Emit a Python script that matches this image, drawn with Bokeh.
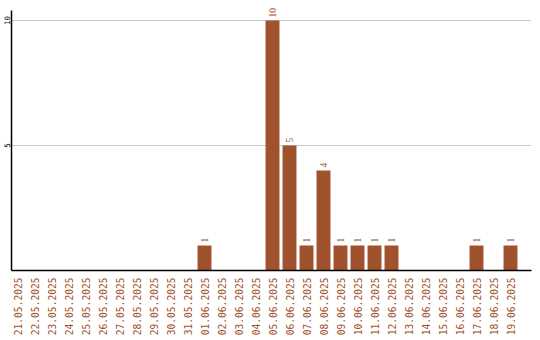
from math import pi
from bokeh.plotting import figure
from bokeh.models import ColumnDataSource, FixedTicker, Range1d, LabelSet
from bokeh.embed import file_html
from bokeh.resources import INLINE

dates = ["21.05.2025", "22.05.2025", "23.05.2025", "24.05.2025", "25.05.2025",
         "26.05.2025", "27.05.2025", "28.05.2025", "29.05.2025", "30.05.2025",
         "31.05.2025", "01.06.2025", "02.06.2025", "03.06.2025", "04.06.2025",
         "05.06.2025", "06.06.2025", "07.06.2025", "08.06.2025", "09.06.2025",
         "10.06.2025", "11.06.2025", "12.06.2025", "13.06.2025", "14.06.2025",
         "15.06.2025", "16.06.2025", "17.06.2025", "18.06.2025", "19.06.2025"]
counts = [0, 0, 0, 0, 0, 0, 0, 0, 0, 0, 0, 1, 0, 0, 0,
          10, 5, 1, 4, 1, 1, 1, 1, 0, 0, 0, 0, 1, 0, 1]
y_ticks = [5, 10]

BROWN = "#A0522D"
FONT = "DejaVu Sans Mono"

xs = list(range(len(dates)))
src = ColumnDataSource(dict(x=xs, top=counts))
nz = [i for i, c in enumerate(counts) if c > 0]
lbl = ColumnDataSource(dict(x=[xs[i] for i in nz], y=[counts[i] for i in nz],
                            t=[str(counts[i]) for i in nz]))

p = figure(width=540, height=340, output_backend="svg", toolbar_location=None,
           x_range=Range1d(-0.353, len(dates) - 1 + 1.235), y_range=Range1d(0, 10.8),
           min_border_left=0, min_border_right=9, min_border_top=0, min_border_bottom=70)
p.outline_line_color = None
p.background_fill_color = "white"

p.vbar(x="x", top="top", width=0.82, source=src, color=BROWN, line_color=None)
labels = LabelSet(x="x", y="y", text="t", source=lbl, angle=pi / 2, y_offset=3,
                  text_align="left", text_baseline="middle", text_color=BROWN,
                  text_font=FONT, text_font_size="9.5px")
p.add_layout(labels)

p.xgrid.grid_line_color = None
p.ygrid.grid_line_color = "#c8c8c8"
p.ygrid.ticker = FixedTicker(ticks=y_ticks)

p.yaxis.ticker = FixedTicker(ticks=y_ticks)
p.yaxis.bounds = (0, 10.4)
p.yaxis.major_label_orientation = "vertical"
p.yaxis.major_label_text_font = FONT
p.yaxis.major_label_text_font_size = "7.5px"
p.yaxis.major_label_text_color = "black"
p.yaxis.major_label_standoff = 2
p.yaxis.major_tick_line_color = None
p.yaxis.major_tick_out = 0
p.yaxis.minor_tick_line_color = None
p.yaxis.minor_tick_out = 0
p.yaxis.axis_line_color = "black"
p.yaxis.axis_line_width = 1.5

p.xaxis.ticker = FixedTicker(ticks=xs)
p.xaxis.major_label_overrides = {i: d for i, d in enumerate(dates)}
p.xaxis.major_label_orientation = pi / 2
p.xaxis.major_label_text_font = FONT
p.xaxis.major_label_text_font_size = "9.6px"
p.xaxis.major_label_text_color = BROWN
p.xaxis.major_label_standoff = 7
p.xaxis.major_tick_line_color = None
p.xaxis.major_tick_out = 0
p.xaxis.minor_tick_line_color = None
p.xaxis.minor_tick_out = 0
p.xaxis.axis_line_color = "black"
p.xaxis.axis_line_width = 1.5

open("out.html", "w").write(file_html(p, INLINE))
